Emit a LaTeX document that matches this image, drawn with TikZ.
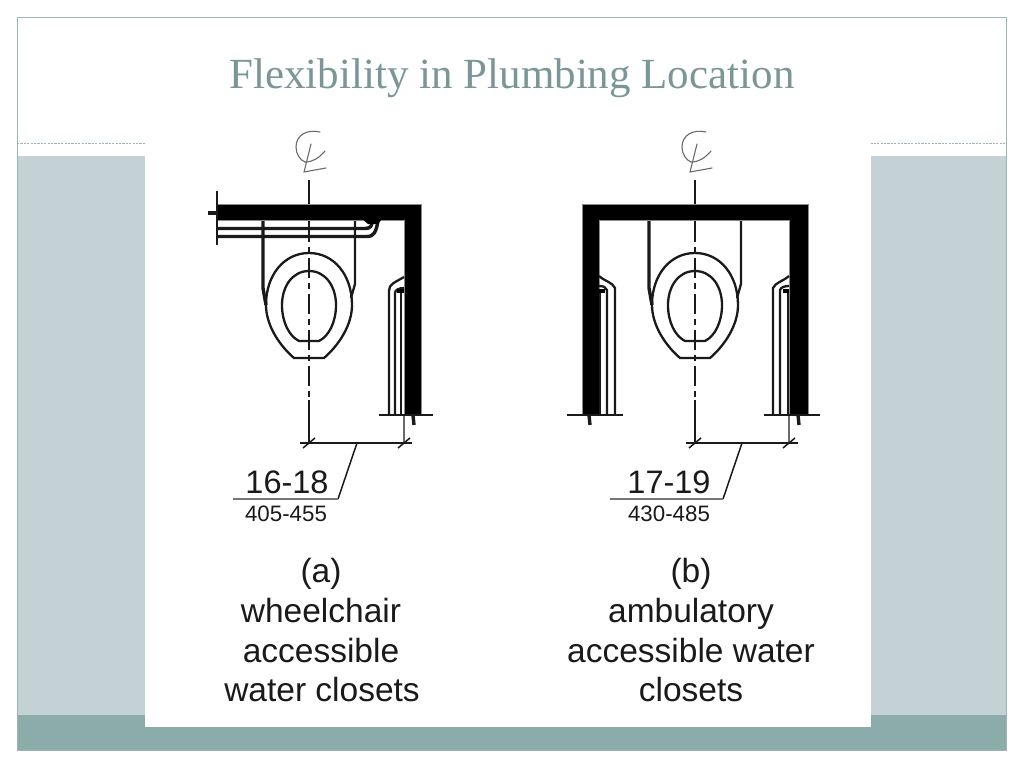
\documentclass[tikz,border=0pt]{standalone}
\usepackage{fontspec}
\setmainfont{Liberation Sans}
\newfontfamily\titlefont{Liberation Serif}
\definecolor{bandlight}{HTML}{C4D2D6}
\definecolor{banddark}{HTML}{8CABAB}
\definecolor{framecol}{HTML}{9DB5B5}
\definecolor{titlecol}{HTML}{7A9696}
\definecolor{ink}{HTML}{1A1A1A}
\tikzset{
  thinline/.style={draw=ink,line width=1.5pt},
  medline/.style={draw=ink,line width=2.3pt},
  thickline/.style={draw=ink,line width=3.4pt},
  wall/.style={fill=black,draw=black!45,line width=0.8pt},
  symbolline/.style={draw=ink!65,line width=1.1pt,line cap=round},
  dimtext/.style={font=\fontsize{32.5}{32.5}\selectfont,text=ink,inner sep=0pt,anchor=base},
  subtext/.style={font=\fontsize{22.3}{22.3}\selectfont,text=ink,inner sep=0pt,anchor=base},
  captext/.style={font=\fontsize{33.5}{33.5}\selectfont,text=ink,inner sep=0pt,anchor=base},
}
\newcommand{\fixtureparts}{%
  % centre line
  \draw[thinline] (0,180) -- (0,222);
  \draw[thinline,dash pattern=on 20pt off 5pt on 6pt off 5pt] (0,222) -- (0,400);
  \draw[thinline] (0,400) -- (0,443);
  % centre line symbol
  \draw[symbolline] (11,132) .. controls (-2,129) and (-13,135) .. (-13,147) .. controls (-13,154) and (-9,160) .. (-4,162);
  \draw[symbolline] (2,144) -- (-5,172) -- (17,168);
  \draw[symbolline] (-4,162) .. controls (4,162) and (10,158) .. (16,151);
  % seat
  \draw[medline] (0,253) .. controls (25,253) and (43,275) .. (43,305) .. controls (43,325) and (30,345) .. (15,358) -- (-15,358) .. controls (-30,345) and (-43,325) .. (-43,305) .. controls (-43,275) and (-25,253) .. (0,253) -- cycle;
  \draw[medline] (0,271) .. controls (17,271) and (27,287) .. (27,305) .. controls (27,322) and (20,336) .. (10,341) -- (-10,341) .. controls (-20,336) and (-27,322) .. (-27,305) .. controls (-27,287) and (-17,271) .. (0,271) -- cycle;
  % tank sides
  \draw[thickline] (-46,220) -- (-46,288) -- (-43,305);
  \draw[medline] (46,220) -- (46,284) -- (42,298);
}
\begin{document}
\begin{tikzpicture}[x=1pt,y=-1pt]
\useasboundingbox (0,0) rectangle (1024,768);
\fill[white] (0,0) rectangle (1024,768);
% slide background
\fill[bandlight] (17,156) rectangle (1006,715);
\fill[banddark] (17,715) rectangle (1006,750);
\draw[framecol,line width=0.9pt] (17,17) rectangle (1006,750);
\draw[framecol,line width=0.9pt,dash pattern=on 2.2pt off 1.2pt] (17,143) -- (1006,143);
\fill[white] (145,142) rectangle (871,727);
\node[font=\titlefont\fontsize{43}{43}\selectfont,text=titlecol,inner sep=0pt,anchor=base] (title) at (512,88) {Flexibility in Plumbing Location};

% ---------- (a) ----------
\begin{scope}[xshift=309pt]\fixtureparts\end{scope}
\fill[wall] (217,204) -- (421,204) -- (421,415) -- (404,415) -- (404,220) -- (217,220) -- cycle;
\draw[medline] (217,191) -- (217,245);
\draw[thickline] (208,213) -- (218,213);
% rear grab bar
\draw[thickline] (217,228.5) -- (364,228.5) .. controls (371,228.5) and (372,226) .. (372,221);
\draw[thickline] (217,236.5) -- (367,236.5) .. controls (374,236.5) and (376,232) .. (378,221);
\fill[black] (362,219) -- (382,219) -- (378,224) -- (368,224) -- cycle;
% side grab bar
\draw[medline] (389,415) -- (389,291) .. controls (389,284) and (394,283) .. (404,277);
\draw[medline] (395,415) -- (395,293) .. controls (395,290) and (399,288) .. (404,288);
\draw[medline] (401,415) -- (401,291);
\fill[black] (397,289) rectangle (404,293);
% floor
\draw[medline] (379,415) -- (433,415);
\draw[thickline] (413,415) -- (414,425);
% dimension
\draw[draw=ink!65,line width=2pt] (404,416) -- (404,443);
\draw[medline] (300,443) -- (412,443);
\draw[thinline] (303,448) -- (315,438);
\draw[thinline] (398,448) -- (410,438);
\draw[thinline] (357,443) -- (338,499);
\draw[draw=ink!60,line width=1.6pt] (233,499) -- (338,499);
\node[dimtext] (dima) at (287,493) {16-18};
\node[subtext] (suba) at (286,521) {405-455};
\node[captext] (capa1) at (321,582) {(a)};
\node[captext] (capa2) at (321,622) {wheelchair};
\node[captext] (capa3) at (321,662) {accessible};
\node[captext] (capa4) at (322,701) {water closets};

% ---------- (b) ----------
\begin{scope}[xshift=695pt]\fixtureparts\end{scope}
\fill[wall] (582,204) -- (808,204) -- (808,415) -- (789,415) -- (789,220) -- (599,220) -- (599,415) -- (582,415) -- cycle;
% left side grab bar
\draw[medline] (615,415) -- (615,288) .. controls (612,282) and (606,282) .. (599,276);
\draw[medline] (607,415) -- (607,290) .. controls (606,287) and (603,286) .. (599,286);
\draw[medline] (600,415) -- (600,292);
\fill[black] (599,289) rectangle (605,293);
% right side grab bar
\draw[medline] (773,415) -- (773,288) .. controls (776,282) and (782,282) .. (789,276);
\draw[medline] (780,415) -- (780,290) .. controls (781,287) and (785,286) .. (789,286);
\draw[medline] (788,415) -- (788,292);
\fill[black] (783,289) rectangle (789,293);
% floor
\draw[medline] (567,415) -- (623,415);
\draw[medline] (764,415) -- (820,415);
\draw[thickline] (589,415) -- (590,425);
\draw[thickline] (798,415) -- (799,425);
% dimension
\draw[draw=ink!65,line width=2pt] (789,416) -- (789,443);
\draw[medline] (686,443) -- (798,443);
\draw[thinline] (689,448) -- (701,438);
\draw[thinline] (783,448) -- (795,438);
\draw[thinline] (742,443) -- (723,499);
\draw[draw=ink!60,line width=1.6pt] (610,499) -- (723,499);
\node[dimtext] (dimb) at (669,493) {17-19};
\node[subtext] (subb) at (669,521) {430-485};
\node[captext] (capb1) at (691,582) {(b)};
\node[captext] (capb2) at (691,622) {ambulatory};
\node[captext] (capb3) at (691,662) {accessible water};
\node[captext] (capb4) at (691,701) {closets};
\end{tikzpicture}
\end{document}
